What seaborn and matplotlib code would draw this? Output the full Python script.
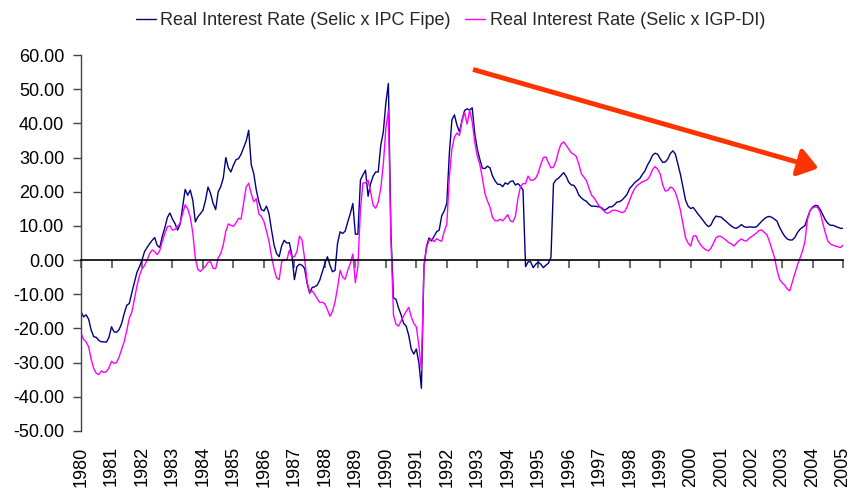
import numpy as np
import pandas as pd
import seaborn as sns
import matplotlib.pyplot as plt
from matplotlib.ticker import StrMethodFormatter

# monthly real interest rate (% p.a.), Jan/1980 .. Jan/2005, one row per year
ipc_fipe = [
    -15.1, -16.6, -16.0, -17.3, -20.5, -22.4, -22.6, -23.5, -23.9, -23.9, -24.0, -22.6,  # 1980
    -19.5, -21.0, -21.1, -20.3, -18.5, -15.6, -13.2, -12.7, -9.5, -6.5, -3.6, -1.9,      # 1981
    0.0, 2.5, 3.7, 4.8, 5.8, 6.6, 4.3, 3.7, 7.0, 9.5, 12.5, 13.8,                        # 1982
    12.0, 10.7, 8.8, 10.5, 15.5, 20.7, 19.0, 20.5, 17.5, 11.2, 12.7, 13.6,               # 1983
    14.6, 17.5, 21.4, 19.5, 16.6, 14.8, 20.0, 21.5, 24.0, 30.0, 27.0, 25.8,              # 1984
    27.8, 29.4, 29.7, 31.0, 32.9, 34.8, 38.0, 28.0, 25.3, 20.5, 17.1, 14.8,              # 1985
    14.4, 15.8, 13.6, 8.8, 4.4, 1.9, 1.0, 4.2, 5.8, 5.0, 5.1, 1.5,                       # 1986
    -5.7, -1.9, -1.2, -1.5, -2.4, -6.8, -9.7, -8.0, -7.8, -7.3, -5.8, -3.4,              # 1987
    -1.0, 1.0, -1.5, -3.4, -3.0, 5.0, 8.3, 7.8, 8.5, 11.2, 13.6, 16.6,                   # 1988
    7.6, 7.6, 23.4, 25.0, 26.3, 18.7, 22.4, 24.6, 25.8, 25.8, 33.6, 37.5,                # 1989
    46.0, 51.7, 8.0, -11.0, -11.5, -14.0, -16.0, -18.5, -19.3, -22.0, -26.0, -27.5,      # 1990
    -26.0, -30.0, -37.5, -2.0, 4.0, 6.5, 5.6, 7.0, 8.3, 8.8, 13.0, 14.4,                 # 1991
    16.6, 31.2, 41.0, 42.5, 39.5, 37.5, 41.0, 43.8, 44.3, 43.9, 44.6, 37.0,              # 1992
    32.5, 29.5, 26.9, 26.8, 27.5, 27.0, 24.6, 23.2, 22.2, 22.2, 21.5, 22.6,              # 1993
    22.2, 23.0, 23.2, 22.0, 22.4, 21.6, 20.5, -1.9, -0.5, -0.5, -2.2, -1.2,              # 1994
    -0.6, -1.2, -2.2, -1.5, -0.9, 0.8, 22.4, 23.5, 24.0, 24.8, 25.6, 24.5,               # 1995
    22.8, 22.0, 21.9, 20.8, 19.0, 18.2, 17.6, 17.2, 16.3, 15.8, 15.8, 15.7,              # 1996
    15.6, 15.3, 14.6, 15.0, 15.6, 15.6, 16.2, 17.0, 17.1, 17.6, 18.4, 19.3,              # 1997
    21.0, 21.8, 22.7, 23.3, 23.9, 25.1, 26.1, 27.8, 29.1, 30.7, 31.3, 31.0,              # 1998
    29.7, 28.6, 28.7, 29.6, 31.2, 32.0, 31.0, 28.0, 25.0, 21.2, 17.5, 15.8,              # 1999
    15.1, 15.4, 14.4, 13.4, 12.5, 11.5, 10.5, 9.8, 10.3, 11.9, 12.9, 12.7,               # 2000
    12.6, 11.9, 11.3, 10.6, 10.0, 9.5, 9.3, 9.8, 10.4, 9.8, 9.6, 9.7,                    # 2001
    9.7, 9.6, 9.8, 10.6, 11.4, 12.1, 12.6, 12.8, 12.5, 12.0, 11.4, 9.6,                  # 2002
    8.2, 7.0, 6.2, 5.9, 5.9, 6.6, 8.0, 9.0, 9.6, 10.1, 12.4, 14.5,                       # 2003
    15.5, 16.0, 15.9, 14.8, 13.3, 11.8, 10.8, 10.2, 10.2, 9.9, 9.6, 9.3,                 # 2004
    9.3,                                                                                 # 2005
]

igp_di = [
    -21.4, -23.2, -23.9, -25.4, -29.0, -31.7, -33.1, -33.5, -32.4, -32.9, -32.6, -31.5,  # 1980
    -29.6, -30.2, -30.0, -28.3, -26.0, -23.8, -20.6, -17.0, -15.2, -11.5, -7.6, -4.5,    # 1981
    -2.5, -1.6, 0.0, 1.9, 3.0, 2.5, 1.6, 2.8, 5.5, 7.8, 9.8, 10.0,                       # 1982
    8.8, 9.0, 9.8, 10.8, 13.6, 16.2, 15.0, 12.6, 8.0, 0.5, -2.7, -3.3,                   # 1983
    -2.5, -1.8, -0.6, -0.5, -2.4, -2.5, 0.7, 1.9, 4.5, 8.5, 10.6, 10.2,                  # 1984
    9.9, 10.9, 12.2, 12.0, 16.6, 21.4, 22.5, 19.5, 17.1, 18.0, 13.5, 12.8,               # 1985
    11.3, 8.5, 5.5, 1.0, -2.6, -5.2, -5.7, -0.4, 0.2, 0.0, 2.9, 1.0,                     # 1986
    1.0, 2.5, 7.0, 5.9, 0.6, -6.3, -9.5, -9.0, -10.0, -11.3, -12.4, -12.3,               # 1987
    -12.8, -14.5, -16.4, -15.0, -12.2, -8.0, -3.0, -5.0, -5.6, -3.0, -1.0, 1.8,          # 1988
    -6.6, -1.9, 15.0, 22.6, 22.6, 23.4, 20.0, 16.0, 15.2, 17.0, 21.0, 28.0,              # 1989
    38.5, 43.9, 6.0, -16.0, -18.8, -19.3, -17.8, -16.3, -15.0, -13.8, -16.6, -18.5,      # 1990
    -19.5, -25.0, -32.2, -1.5, 3.5, 5.8, 6.2, 5.4, 6.3, 5.8, 5.5, 8.5,                   # 1991
    10.5, 24.4, 32.5, 36.0, 37.2, 36.5, 40.8, 43.2, 39.8, 43.9, 40.5, 34.5,              # 1992
    30.4, 28.0, 24.0, 19.5, 17.3, 15.5, 12.5, 11.5, 11.5, 12.0, 11.5, 12.4,              # 1993
    13.3, 11.5, 11.2, 12.8, 18.0, 21.5, 22.4, 22.4, 24.6, 23.4, 23.4, 24.0,              # 1994
    25.5, 28.0, 30.0, 30.2, 28.5, 27.0, 27.2, 29.0, 32.0, 34.0, 34.6, 33.6,              # 1995
    32.5, 31.4, 31.0, 30.3, 28.0, 25.2, 24.3, 23.2, 21.0, 19.0, 18.2, 17.0,              # 1996
    15.8, 15.0, 14.3, 13.7, 13.9, 14.5, 14.6, 14.5, 14.2, 13.9, 14.2, 15.6,              # 1997
    17.6, 19.5, 21.0, 21.9, 22.4, 22.9, 23.2, 23.6, 24.7, 26.5, 27.4, 26.6,              # 1998
    25.2, 22.0, 20.2, 20.4, 21.4, 21.0, 19.8, 17.4, 14.5, 10.5, 6.5, 5.0,                # 1999
    4.1, 7.0, 7.2, 5.6, 4.4, 3.6, 3.0, 2.7, 3.5, 5.0, 6.6, 7.0,                          # 2000
    6.9, 6.4, 5.8, 5.1, 4.8, 4.1, 4.9, 5.7, 6.2, 5.7, 5.6, 6.4,                          # 2001
    6.9, 7.4, 8.0, 8.7, 8.8, 8.1, 7.5, 5.5, 3.2, 0.8, -2.9, -5.6,                        # 2002
    -6.6, -7.3, -8.4, -9.0, -6.5, -4.0, -1.5, 0.5, 2.6, 5.5, 12.0, 14.5,                 # 2003
    15.3, 15.6, 15.4, 14.0, 10.9, 8.0, 5.6, 4.7, 4.4, 4.1, 3.9, 3.7,                     # 2004
    4.4,                                                                                 # 2005
]

year_labels = [str(y) for y in range(1980, 2006)]
series_names = ["Real Interest Rate (Selic x IPC Fipe)", "Real Interest Rate (Selic x IGP-DI)"]
colors = ["#000080", "#FF00FF"]

# trend arrow (year, rate)
arrow_start = (1992.86, 55.8)
arrow_end = (2004.2, 26.9)

t = 1980 + np.arange(len(ipc_fipe)) / 12
df = pd.concat([
    pd.DataFrame({"year": t, "rate": ipc_fipe, "series": series_names[0]}),
    pd.DataFrame({"year": t, "rate": igp_di, "series": series_names[1]}),
])

sns.set_style("white")
plt.rcParams["font.family"] = ["Liberation Sans", "DejaVu Sans"]
plt.rcParams["axes.unicode_minus"] = False

fig = plt.figure(figsize=(8.63, 4.92), dpi=100)
ax = fig.add_axes([0.0939, 0.124, 0.883, 0.764])

sns.lineplot(data=df, x="year", y="rate", hue="series", palette=colors,
             estimator=None, sort=False, linewidth=1.0, ax=ax)

handles, labels = ax.get_legend_handles_labels()
ax.get_legend().remove()
fig.legend(handles, labels, loc="upper center", bbox_to_anchor=(0.522, 1.008), ncol=2,
           frameon=False, fontsize=13, handlelength=1.1, handletextpad=0.25,
           columnspacing=0.8)

ax.set_xlim(1980, 2005)
ax.set_ylim(-50, 60)
ax.set_xlabel("")
ax.set_ylabel("")

ax.set_yticks(range(-50, 61, 10))
ax.yaxis.set_major_formatter(StrMethodFormatter("{x:.2f}"))
ax.tick_params(axis="y", direction="out", length=6, width=1, color="#444444",
               labelsize=13, labelcolor="black", pad=6, left=True)

for s in ["top", "right"]:
    ax.spines[s].set_visible(False)
ax.spines["left"].set_color("#444444")
ax.spines["left"].set_linewidth(1)
ax.spines["bottom"].set_position(("data", 0))
ax.spines["bottom"].set_color("black")
ax.spines["bottom"].set_linewidth(1.2)

years = np.arange(1980, 2006)
ax.set_xticks(years)
ax.tick_params(axis="x", direction="out", length=6, width=1.5, color="#707070",
               labelbottom=False, bottom=True)

sec = ax.secondary_xaxis(0)
sec.set_xticks(years, labels=year_labels)
sec.tick_params(length=0, pad=11, labelsize=13, labelrotation=90, labelcolor="black")
sec.spines["bottom"].set_visible(False)

ax.annotate("", xy=arrow_end, xytext=arrow_start,
            arrowprops=dict(arrowstyle="-|>,head_length=0.6,head_width=0.42",
                            mutation_scale=20, lw=3.5, color="#FF3300",
                            shrinkA=0, shrinkB=0, capstyle="butt"))

fig.savefig("out.png", dpi=100)
